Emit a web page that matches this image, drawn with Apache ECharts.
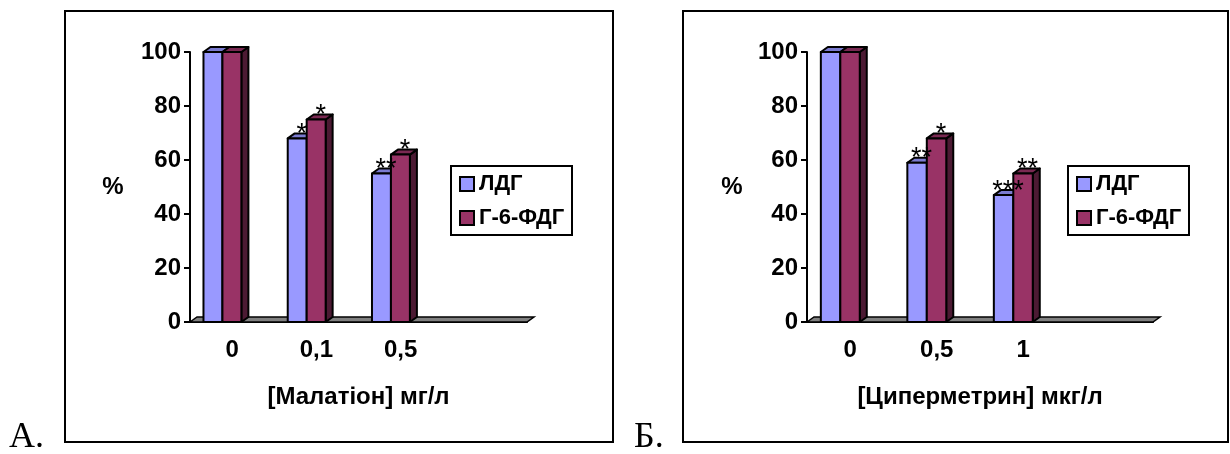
<!DOCTYPE html>
<html>
<head>
<meta charset="utf-8">
<script src="https://cdn.jsdelivr.net/npm/echarts@6/dist/echarts.min.js"></script>
<style>
  html, body { margin: 0; padding: 0; background: #fff; }
  #chart { width: 1230px; height: 454px; }
</style>
</head>
<body>
<div id="chart"></div>
<script>
// дані: А - малатіон, Б - циперметрин
var categoriesA = ['0', '0,1', '0,5', ''];
var categoriesB = ['0', '0,5', '1', ''];
var ldgA = [100, 68, 55];
var g6pdA = [100, 75, 62];
var ldgB = [100, 59, 47];
var g6pdB = [100, 68, 55];
var starsLdgA = ['', '*', '**'];
var starsG6A = ['', '*', '*'];
var starsLdgB = ['', '**', '***'];
var starsG6B = ['', '*', '**'];
var seriesNames = ['ЛДГ', 'Г-6-ФДГ'];

var FONT = '"Liberation Sans", Arial, sans-serif';
var DX = 7, DY = 5; // глибина 3D

function toData(arr) {
  return arr.map(function (v, i) { return [i, v]; });
}

// геометрія передньої грані стовпчика
function barBox(slot, api) {
  var cat = api.value(0), val = api.value(1);
  var top = api.coord([cat, val]);
  var base = api.coord([cat, 0]);
  var bw = api.size([1, 0])[0];
  var w = bw * 0.225;
  return { cat: cat, x: top[0] - bw * 0.115 - w + slot * w, y: top[1], b: base[1], w: w };
}

// 3D стовпчик: передня грань, верх, бік
function bar3d(slot, front, topColor, sideColor) {
  return function (params, api) {
    var r = barBox(slot, api);
    var x = r.x, y = r.y, b = r.b, w = r.w;
    var st = { stroke: '#000', lineWidth: 2, lineJoin: 'round' };
    return {
      type: 'group',
      children: [
        { type: 'polygon', shape: { points: [[x + w, b], [x + w + DX, b - DY], [x + w + DX, y - DY], [x + w, y]] },
          style: Object.assign({ fill: sideColor }, st) },
        { type: 'polygon', shape: { points: [[x, y], [x + DX, y - DY], [x + w + DX, y - DY], [x + w, y]] },
          style: Object.assign({ fill: topColor }, st) },
        { type: 'rect', shape: { x: x, y: y, width: w, height: b - y },
          style: Object.assign({ fill: front }, st) }
      ]
    };
  };
}

// зірочки над стовпчиками
function starText(slot, stars) {
  return function (params, api) {
    var r = barBox(slot, api);
    return {
      type: 'text',
      style: { text: stars[r.cat], x: r.x + r.w / 2 + 4.5, y: r.y - 4,
        align: 'center', verticalAlign: 'middle', fill: '#000',
        font: 'normal 27px ' + FONT }
    };
  };
}

// підлога під віссю X
function floor(params, api) {
  var cs = params.coordSys;
  var x0 = cs.x, x1 = cs.x + cs.width, y = cs.y + cs.height;
  return {
    type: 'polygon',
    shape: { points: [[x0, y], [x0 + DX, y - DY], [x1 + DX, y - DY], [x1, y]] },
    style: { fill: '#808080', stroke: '#000', lineWidth: 1.5 }
  };
}

function xAx(idx, cats, name) {
  return {
    type: 'category', gridIndex: idx, data: cats,
    name: name, nameLocation: 'middle', nameGap: 75,
    nameTextStyle: { fontFamily: FONT, fontWeight: 'bold', fontSize: 24, color: '#000', verticalAlign: 'middle' },
    axisLine: { lineStyle: { color: '#000', width: 2 } },
    axisTick: { length: 6, lineStyle: { color: '#000', width: 2 } },
    axisLabel: { interval: 0, margin: 16, fontFamily: FONT, fontWeight: 'bold', fontSize: 24, color: '#000' },
    splitLine: { show: false }
  };
}

function yAx(idx, gap) {
  return {
    type: 'value', gridIndex: idx, min: 0, max: 100, interval: 20,
    name: '%', nameLocation: 'middle', nameGap: gap, nameRotate: 0,
    nameTextStyle: { fontFamily: FONT, fontWeight: 'bold', fontSize: 24, color: '#000', align: 'center', verticalAlign: 'middle' },
    axisLine: { show: true, lineStyle: { color: '#000', width: 2 } },
    axisTick: { show: true, length: 6, lineStyle: { color: '#000', width: 2 } },
    axisLabel: { margin: 9, fontFamily: FONT, fontWeight: 'bold', fontSize: 24, color: '#000' },
    splitLine: { show: false }
  };
}

function legendAt(left) {
  return {
    orient: 'vertical', left: left, top: 166, padding: [7, 8, 6, 8],
    itemGap: 12, itemWidth: 14, itemHeight: 14, icon: 'rect',
    itemStyle: { borderColor: '#000', borderWidth: 2 },
    textStyle: { fontFamily: FONT, fontWeight: 'bold', fontSize: 22, color: '#000' },
    data: seriesNames, selectedMode: false
  };
}

function barSeries(name, axis, z, data, render) {
  return { name: name, type: 'custom', xAxisIndex: axis, yAxisIndex: axis, z: z,
    encode: { x: 0, y: 1 }, data: toData(data), renderItem: render,
    itemStyle: { color: name === seriesNames[0] ? '#9999ff' : '#993366' } };
}

function starSeries(axis, data, render) {
  return { type: 'custom', xAxisIndex: axis, yAxisIndex: axis, z: 10, silent: true,
    encode: { x: 0, y: 1 }, data: toData(data), renderItem: render };
}

var chart = echarts.init(document.getElementById('chart'));
chart.setOption({
  backgroundColor: '#fff',
  animation: false,
  color: ['#9999ff', '#993366'],
  grid: [
    { left: 190, top: 52, width: 337, height: 270 },
    { left: 807, top: 52, width: 346, height: 270 }
  ],
  xAxis: [xAx(0, categoriesA, '[Малатіон] мг/л'), xAx(1, categoriesB, '[Циперметрин] мкг/л')],
  yAxis: [yAx(0, 77), yAx(1, 75)],
  legend: [legendAt(451), legendAt(1068)],
  graphic: [
    { type: 'rect', shape: { x: 65, y: 11, width: 548, height: 431 }, style: { fill: 'none', stroke: '#000', lineWidth: 2 } },
    { type: 'rect', shape: { x: 683, y: 11, width: 545, height: 431 }, style: { fill: 'none', stroke: '#000', lineWidth: 2 } },
    { type: 'rect', shape: { x: 451, y: 166, width: 121, height: 69 }, style: { fill: 'none', stroke: '#000', lineWidth: 2 } },
    { type: 'rect', shape: { x: 1068, y: 166, width: 121, height: 69 }, style: { fill: 'none', stroke: '#000', lineWidth: 2 } },
    { type: 'text', left: 9, top: 420, style: { text: 'А.', font: '36px "Liberation Serif", "Times New Roman", serif', fill: '#000' } },
    { type: 'text', left: 634, top: 420, style: { text: 'Б.', font: '36px "Liberation Serif", "Times New Roman", serif', fill: '#000' } }
  ],
  series: [
    { type: 'custom', xAxisIndex: 0, yAxisIndex: 0, data: [[0, 0]], renderItem: floor, z: 1, silent: true },
    { type: 'custom', xAxisIndex: 1, yAxisIndex: 1, data: [[0, 0]], renderItem: floor, z: 1, silent: true },
    barSeries(seriesNames[0], 0, 2, ldgA, bar3d(0, '#9999ff', '#7b7bd0', '#5c5c99')),
    barSeries(seriesNames[1], 0, 3, g6pdA, bar3d(1, '#993366', '#7a2952', '#4c1a33')),
    barSeries(seriesNames[0], 1, 2, ldgB, bar3d(0, '#9999ff', '#7b7bd0', '#5c5c99')),
    barSeries(seriesNames[1], 1, 3, g6pdB, bar3d(1, '#993366', '#7a2952', '#4c1a33')),
    starSeries(0, ldgA, starText(0, starsLdgA)),
    starSeries(0, g6pdA, starText(1, starsG6A)),
    starSeries(1, ldgB, starText(0, starsLdgB)),
    starSeries(1, g6pdB, starText(1, starsG6B))
  ]
});
</script>
</body>
</html>
